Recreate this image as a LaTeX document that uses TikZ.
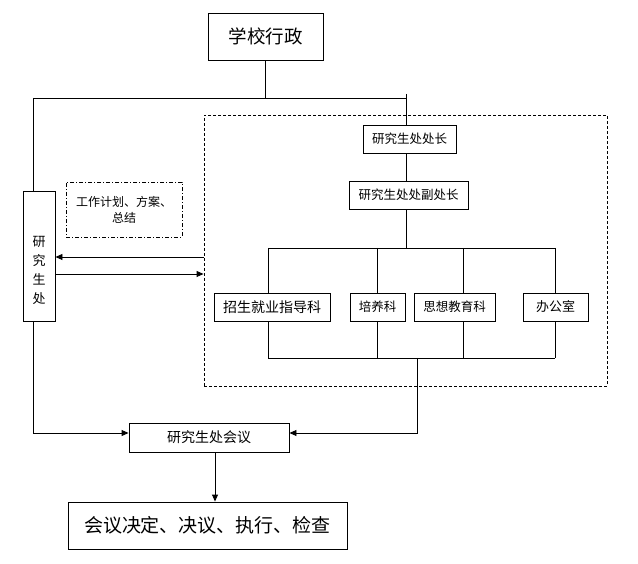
\documentclass[tikz,border=0pt]{standalone}
\usepackage{fontspec}
\newfontfamily\cjk{Noto Sans CJK SC}
\usetikzlibrary{arrows.meta}
\tikzset{
	kuang/.style={draw, line width=0.9pt, inner sep=0pt, font=\cjk\fontsize{12.5}{15}\selectfont},
	xukuang/.style={draw, line width=0.9pt, dash pattern=on 3pt off 2pt, inner sep=0pt},
	dianxian/.style={draw, line width=0.9pt, dash pattern=on 4pt off 2pt on 1pt off 2pt, inner sep=0pt, align=center, font=\cjk\fontsize{12}{16}\selectfont},
	xian/.style={line width=0.9pt},
	jiantou/.style={line width=0.9pt, -{Triangle[length=7pt,width=6pt]}},
}

\begin{document}
\begin{tikzpicture}[x=1pt, y=-1pt]
			%%%%% START %%%%%
			\useasboundingbox (0,0) rectangle (638,564);
			
			\node[xukuang, minimum width=403pt, minimum height=271pt] (frame) at (405.5,250.5) {};
			
			\node[kuang, minimum width=115pt, minimum height=47pt, font=\cjk\fontsize{18.5}{22}\selectfont] (xxxz) at (265.5,36.5) {学校行政};
			\node[kuang, minimum width=93pt, minimum height=28pt] (czz) at (409.5,139) {研究生处处长};
			\node[kuang, minimum width=119pt, minimum height=28pt] (fcz) at (408.5,195) {研究生处处副处长};
			
			\node[kuang, minimum width=116pt, minimum height=28pt, font=\cjk\fontsize{14}{16}\selectfont] (zs) at (272,307) {招生就业指导科};
			\node[kuang, minimum width=55pt, minimum height=28pt] (py) at (377.5,307) {培养科};
			\node[kuang, minimum width=81pt, minimum height=28pt] (sx) at (454.5,307) {思想教育科};
			\node[kuang, minimum width=65pt, minimum height=28pt, font=\cjk\fontsize{13}{15}\selectfont] (bgs) at (555.5,307) {办公室};
			
			\node[kuang, minimum width=32pt, minimum height=130pt, label={[font=\cjk\fontsize{13}{19}\selectfont, align=center, yshift=-14pt]center:研\\究\\生\\处}] (yjs) at (39,256) {};
			\node[dianxian, minimum width=116pt, minimum height=55pt] (plan) at (124,209.5) {工作计划、方案、\\总结};
			
			\node[kuang, minimum width=160pt, minimum height=29pt, font=\cjk\fontsize{14}{16}\selectfont] (hy) at (209,437.5) {研究生处会议};
			\node[kuang, minimum width=279pt, minimum height=47pt, font=\cjk\fontsize{19}{22}\selectfont] (jd) at (207.5,525.5) {会议决定、决议、执行、检查};
			
			\coordinate (lt) at (33,98);
			\coordinate (zx) at (406,94);
			\coordinate (lb) at (33,433);
			\coordinate (hz) at (417,358);
			
			\draw[xian] (xxxz.south) -- (xxxz.south |- lt);
			\draw[xian] (lt) -- (lt -| zx);
			\draw[xian] (zx) -- (zx |- czz.north);
			\draw[xian] (zx |- czz.south) -- (zx |- fcz.north);
			\draw[xian] (zx |- fcz.south) -- (406,248);
			
			\draw[xian] (268,248) -- (555,248);
			\foreach \n/\x in {zs/268, py/377, sx/463, bgs/555} {
				\draw[xian] (\x,248) -- (\x,0 |- \n.north);
				\draw[xian] (\x,0 |- \n.south) -- (\x,358);
			}
			\draw[xian] (268,358) -- (555,358);
			\draw[jiantou] (hz) -- (hz |- lb) -- (hy.east |- lb);
			
			\draw[xian] (lt) -- (lt |- yjs.north);
			\draw[jiantou] (lt |- yjs.south) -- (lb) -- (hy.west |- lb);
			
			\draw[jiantou] (frame.west |- 0,257) -- (yjs.east |- 0,257);
			\draw[jiantou] (yjs.east |- 0,274) -- (frame.west |- 0,274);
			
			\draw[jiantou] (215,0 |- hy.south) -- (215,0 |- jd.north);
			
			%%%%% END %%%%%
\end{tikzpicture}
\end{document}
